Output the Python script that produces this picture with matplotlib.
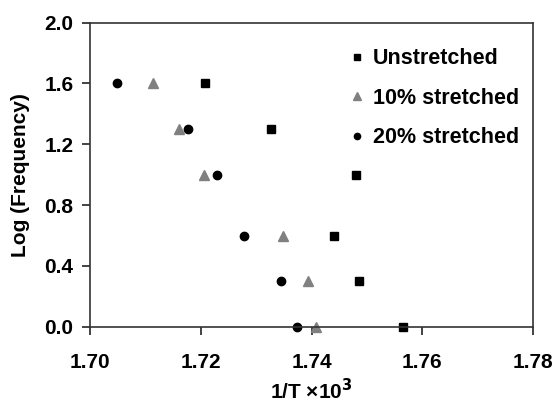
import matplotlib.pyplot as plt

plt.rcParams['font.family'] = ['Liberation Sans', 'DejaVu Sans']
plt.rcParams['font.weight'] = 'bold'

log_freq = [1.6, 1.3, 1.0, 0.6, 0.3, 0.0]
unstretched = [1.7207, 1.7327, 1.7480, 1.7440, 1.7485, 1.7566]
stretched_10 = [1.7114, 1.7160, 1.7205, 1.7349, 1.7393, 1.7409]
stretched_20 = [1.7048, 1.7177, 1.7230, 1.7279, 1.7345, 1.7373]

fig = plt.figure(figsize=(5.56, 4.05), dpi=100)
ax = fig.add_axes([90 / 556, 1 - 326.7 / 405, (533 - 90) / 556, (326.7 - 22.7) / 405])

ax.plot(unstretched, log_freq, 's', color='black', markersize=6, label='Unstretched', clip_on=False)
ax.plot(stretched_10, log_freq, '^', color='#808080', markersize=7, label='10% stretched', clip_on=False)
ax.plot(stretched_20, log_freq, 'o', color='black', markersize=6, label='20% stretched', clip_on=False)

ax.set_xlim(1.70, 1.78)
ax.set_ylim(0.0, 2.0)
ax.set_xticks([1.70, 1.72, 1.74, 1.76, 1.78])
ax.set_yticks([0.0, 0.4, 0.8, 1.2, 1.6, 2.0])
ax.xaxis.set_major_formatter(plt.FormatStrFormatter('%.2f'))
ax.yaxis.set_major_formatter(plt.FormatStrFormatter('%.1f'))
ax.tick_params(direction='out', length=6, width=1.2, labelsize=15, color='#222222', pad=6)
ax.tick_params(axis='x', pad=13)
for s in ax.spines.values():
    s.set_linewidth(1.2)
    s.set_color('#333333')

# x label placed by hand so it sits at the bottom edge like the original
fig.text(311 / 556, 1 - 399 / 405, '1/T ×10$^{\\mathbf{3}}$', fontsize=15, fontweight='bold',
         ha='center', va='baseline')
ax.set_ylabel('Log (Frequency)', fontsize=15, fontweight='bold', labelpad=10)

leg = ax.legend(loc='upper left', frameon=False, fontsize=15.5, handletextpad=0.2,
                markerscale=0.75, labelspacing=0.86, bbox_to_anchor=(0.56, 0.944),
                handlelength=1.0, borderaxespad=0)

fig.savefig('out.png', dpi=100)
